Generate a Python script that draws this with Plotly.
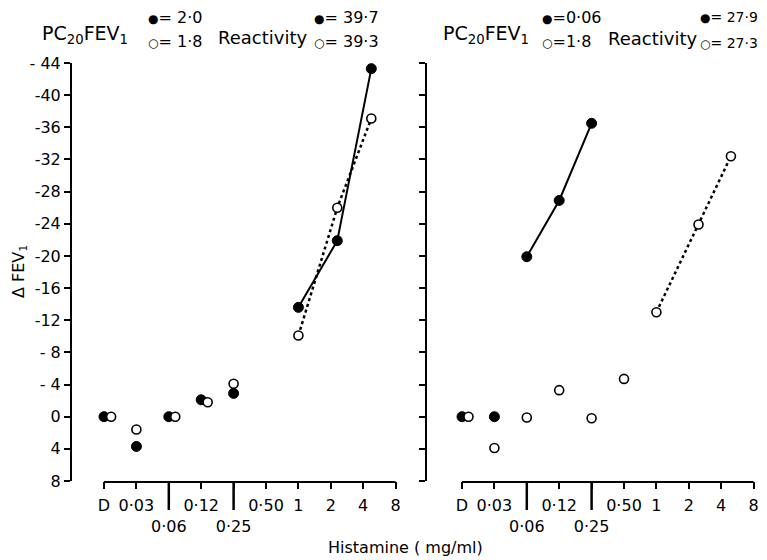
import plotly.graph_objects as go

# ---------------- data ----------------
dose_labels = ["D", "0·03", "<br>0·06", "0·12", "<br>0·25", "0·50", "1", "2", "4", "8"]
dose_pos = list(range(10))
long_tick_pos = [2, 4]

y_ticks = [-44, -40, -36, -32, -28, -24, -20, -16, -12, -8, -4, 0, 4, 8]
y_ticktext = ["- 44", "-40", "-36", "-32", "-28", "-24", "-20", "-16", "-12", "- 8", "- 4", "0", "4", "8"]

# left panel
L_filled_x = [0, 1, 2, 3, 4]
L_filled_y = [0, 3.7, 0, -2.1, -2.9]
L_filled_line_x = [6, 7.2, 8.25]
L_filled_line_y = [-13.6, -21.9, -43.3]
L_open_x = [0.22, 1, 2.2, 3.2, 4]
L_open_y = [0, 1.6, 0, -1.8, -4.1]
L_open_line_x = [6, 7.2, 8.25]
L_open_line_y = [-10.1, -26.0, -37.1]

# right panel
R_filled_x = [0, 1]
R_filled_y = [0, 0]
R_filled_line_x = [2, 3, 4]
R_filled_line_y = [-19.9, -26.9, -36.5]
R_open_x = [0.2, 1, 2, 3, 4, 5]
R_open_y = [0, 3.9, 0.1, -3.3, 0.2, -4.7]
R_open_line_x = [6, 7.3, 8.3]
R_open_line_y = [-13.0, -23.9, -32.4]

# ---------------- figure ----------------
OFF = 8                      # page body margin
W, H = 767 - OFF, 560 - OFF
FONT = "DejaVu Sans"

def px(x):
    return (x - OFF) / W

def py(y):
    return 1 - (y - OFF) / H

fig = go.Figure()

filled_marker = dict(color="black", size=10, line=dict(color="black", width=1))
open_marker = dict(color="white", size=9, line=dict(color="black", width=1.6))

def add_panel(xa, ya, fx, fy, flx, fly, ox, oy, olx, oly):
    fig.add_trace(go.Scatter(x=flx, y=fly, mode="lines+markers", xaxis=xa, yaxis=ya,
                             line=dict(color="black", width=2), marker=filled_marker,
                             showlegend=False, cliponaxis=False))
    fig.add_trace(go.Scatter(x=olx, y=oly, mode="lines+markers", xaxis=xa, yaxis=ya,
                             line=dict(color="black", width=2.5, dash="3px,3px"), marker=open_marker,
                             showlegend=False, cliponaxis=False))
    fig.add_trace(go.Scatter(x=fx, y=fy, mode="markers", xaxis=xa, yaxis=ya,
                             marker=filled_marker, showlegend=False, cliponaxis=False))
    fig.add_trace(go.Scatter(x=ox, y=oy, mode="markers", xaxis=xa, yaxis=ya,
                             marker=open_marker, showlegend=False, cliponaxis=False))

add_panel("x", "y", L_filled_x, L_filled_y, L_filled_line_x, L_filled_line_y,
          L_open_x, L_open_y, L_open_line_x, L_open_line_y)
add_panel("x2", "y2", R_filled_x, R_filled_y, R_filled_line_x, R_filled_line_y,
          R_open_x, R_open_y, R_open_line_x, R_open_line_y)

ydom = [py(481), py(63)]
spacing = 32.4

xcommon = dict(tickmode="array", tickvals=dose_pos, ticktext=dose_labels,
               ticks="outside", ticklen=7, tickwidth=2, tickcolor="black",
               tickangle=0, automargin=False, ticklabelstandoff=3,
               showline=False, showgrid=False, zeroline=False,
               tickfont=dict(family=FONT, size=16, color="black"),
               fixedrange=True)
ycommon = dict(range=[8, -44], tickmode="array", tickvals=y_ticks,
               ticks="outside", ticklen=6, tickwidth=1.5, tickcolor="black",
               showline=True, linewidth=2, linecolor="black",
               showgrid=False, zeroline=False, automargin=False,
               tickfont=dict(family=FONT, size=16, color="black"),
               domain=ydom, fixedrange=True)

fig.update_layout(
    width=W, height=H,
    margin=dict(l=0, r=0, t=0, b=0),
    paper_bgcolor="white", plot_bgcolor="white",
    xaxis=dict(xcommon, domain=[px(72), px(400)],
               range=[-32 / spacing, (400 - 104) / spacing], anchor="y"),
    yaxis=dict(ycommon, ticktext=y_ticktext, showticklabels=True, anchor="x"),
    xaxis2=dict(xcommon, domain=[px(427), 1],
                range=[-35 / spacing, (767 - 462) / spacing], anchor="y2"),
    yaxis2=dict(ycommon, showticklabels=False, anchor="x2"),
)

# x baselines and long ticks
for xr in ["x", "x2"]:
    fig.add_shape(type="line", xref=xr, yref="paper", x0=dose_pos[0], x1=dose_pos[-1],
                  y0=py(482), y1=py(482), line=dict(color="black", width=2))
    for t in long_tick_pos:
        fig.add_shape(type="line", xref=xr, yref="paper", x0=t, x1=t,
                      y0=py(482), y1=py(510), line=dict(color="black", width=2.5))

def ann(text, x, y, size=16, xanchor="left", angle=0):
    fig.add_annotation(text=text, x=px(x), y=py(y), xref="paper", yref="paper",
                       xanchor=xanchor, yanchor="middle", showarrow=False, textangle=angle,
                       font=dict(family=FONT, size=size, color="black"))

FB = "<span style='font-size:12px'>●</span>"
OB = "<span style='font-size:12px'>○</span>"

# y-axis title
ann("Δ FEV<sub>1</sub>", 19, 272, 16, xanchor="center", angle=-90)

# header texts
ann("PC<sub>20</sub>FEV<sub>1</sub>", 40, 35, 19)
ann(FB + "= 2·0", 146, 18, 16)
ann(OB + "= 1·8", 146, 41, 16)
ann("Reactivity", 216, 37, 18)
ann(FB + "= 39·7", 312, 18, 16)
ann(OB + "= 39·3", 312, 41, 16)

ann("PC<sub>20</sub>FEV<sub>1</sub>", 441, 35, 19)
ann(FB + "=0·06", 540, 18, 16)
ann(OB + "=1·8", 540, 41, 16)
ann("Reactivity", 606, 38, 18)
ann(FB + "= 27·9", 698, 17, 14)
ann(OB + "= 27·3", 698, 43, 14)

ann("Histamine ( mg/ml)", 405, 547, 16, xanchor="center")

fig.write_html("out.html")
